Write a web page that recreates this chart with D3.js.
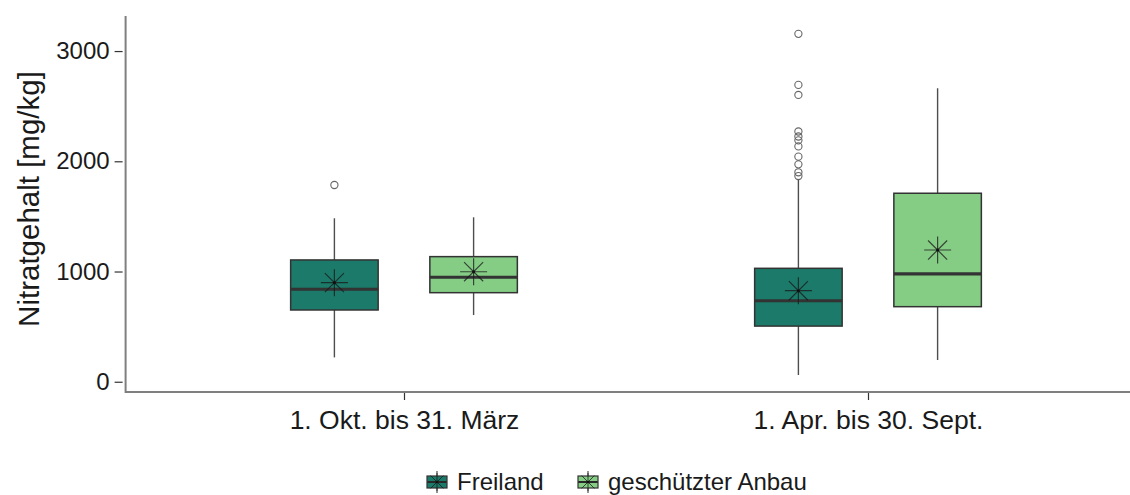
<!DOCTYPE html>
<html>
<head>
<meta charset="utf-8">
<script src="https://cdn.jsdelivr.net/npm/d3@7"></script>
<style>
  html, body { margin: 0; padding: 0; background: #fff; }
  svg { display: block; font-family: "Liberation Sans", Arial, sans-serif; }
</style>
</head>
<body>
<svg id="chart" width="1130" height="495"></svg>
<script>
// Seasons on the x axis, cultivation type as the dodged group
const seasons = ["1. Okt. bis 31. März", "1. Apr. bis 30. Sept."];
const groups = ["Freiland", "geschützter Anbau"];
const groupColors = ["#1b7a69", "#85cc85"];
const yTicks = [0, 1000, 2000, 3000];

// Box statistics per season/group: [whiskerLow, q1, median, q3, whiskerHigh, mean]
const freilandStats = [
  [221, 651, 839, 1105, 1483, 899],
  [61, 505, 735, 1029, 1840, 826]
];
const geschuetztStats = [
  [605, 808, 948, 1135, 1492, 998],
  [197, 681, 978, 1710, 2663, 1195]
];
// Outliers per season
const freilandOutliers = [
  [1785],
  [3156, 2693, 2602, 2270, 2225, 2190, 2135, 2042, 1972, 1900, 1866]
];
const geschuetztOutliers = [[], []];

const svg = d3.select("#chart");
const plot = { left: 125.6, right: 1146.4, top: 16, bottom: 392 };

const x = d3.scalePoint().domain(seasons).range([plot.left, plot.right]).padding(0.6);
const y = d3.scaleLinear().domain([-93, 3318]).range([plot.bottom, plot.top]);
const step = x.step();
const dodge = d3.scaleBand().domain(groups).range([-0.3 * step, 0.3 * step]).paddingInner(0).paddingOuter(0);
const boxW = 0.1886 * step;

const rows = [];
seasons.forEach((s, i) => {
  [freilandStats, geschuetztStats].forEach((st, g) => {
    const v = st[i];
    rows.push({
      season: s, group: groups[g], color: groupColors[g],
      lo: v[0], q1: v[1], med: v[2], q3: v[3], hi: v[4], mean: v[5],
      outliers: (g === 0 ? freilandOutliers : geschuetztOutliers)[i]
    });
  });
});

const cx = d => x(d.season) + dodge(d.group) + dodge.bandwidth() / 2;

const g = svg.append("g");

// whiskers
g.selectAll("line.whisker").data(rows).join("line")
  .attr("x1", cx).attr("x2", cx)
  .attr("y1", d => y(d.lo)).attr("y2", d => y(d.hi))
  .attr("stroke", "#4d4d4d").attr("stroke-width", 1.4);

// boxes
g.selectAll("rect.box").data(rows).join("rect")
  .attr("x", d => cx(d) - boxW / 2).attr("width", boxW)
  .attr("y", d => y(d.q3)).attr("height", d => y(d.q1) - y(d.q3))
  .attr("fill", d => d.color).attr("stroke", "#333").attr("stroke-width", 1.5);

// medians
g.selectAll("line.median").data(rows).join("line")
  .attr("x1", d => cx(d) - boxW / 2).attr("x2", d => cx(d) + boxW / 2)
  .attr("y1", d => y(d.med)).attr("y2", d => y(d.med))
  .attr("stroke", "#333").attr("stroke-width", 3.2);

// outliers
rows.forEach(d => {
  g.selectAll(null).data(d.outliers).join("circle")
    .attr("cx", cx(d)).attr("cy", v => y(v)).attr("r", 3.6)
    .attr("fill", "none").attr("stroke", "#666").attr("stroke-width", 1.1);
});

// mean asterisks (plus + cross with a centre dot)
function asterisk(sel, px, py, r, sw) {
  const d = r * Math.SQRT1_2;
  const path = `M${px - r},${py}L${px + r},${py}M${px},${py - r}L${px},${py + r}` +
               `M${px - d},${py - d}L${px + d},${py + d}M${px - d},${py + d}L${px + d},${py - d}`;
  sel.append("path").attr("d", path).attr("stroke", "#1a1a1a").attr("stroke-opacity", 0.75)
    .attr("stroke-width", sw).attr("fill", "none");
  sel.append("circle").attr("cx", px).attr("cy", py).attr("r", sw * 1.3).attr("fill", "#111");
}
rows.forEach(d => asterisk(g, cx(d), y(d.mean), 13.5, 1.2));

// axes
const axisColor = "#7f7f7f";
const yAxis = svg.append("g").attr("transform", `translate(${plot.left},0)`)
  .call(d3.axisLeft(y).tickValues(yTicks).tickSize(11).tickPadding(5).tickFormat(d3.format("d")));
yAxis.select(".domain").remove();
yAxis.selectAll(".tick line").attr("stroke", "#333").attr("stroke-width", 1.2)
  .attr("x2", -11).attr("x1", -3);
yAxis.selectAll(".tick text").attr("font-size", 24).attr("fill", "#1a1a1a");

const xAxis = svg.append("g").attr("transform", `translate(0,${plot.bottom})`)
  .call(d3.axisBottom(x).tickSize(8).tickPadding(8));
xAxis.select(".domain").remove();
xAxis.selectAll(".tick line").attr("stroke", "#333").attr("stroke-width", 1.2);
xAxis.selectAll(".tick text").attr("font-size", 26.5).attr("fill", "#1a1a1a").attr("dy", "0.8em");

svg.append("line").attr("x1", plot.left).attr("x2", plot.left)
  .attr("y1", plot.top).attr("y2", plot.bottom + 1)
  .attr("stroke", axisColor).attr("stroke-width", 2);
svg.append("line").attr("x1", plot.left).attr("x2", plot.right)
  .attr("y1", plot.bottom).attr("y2", plot.bottom)
  .attr("stroke", axisColor).attr("stroke-width", 2);

// y title
svg.append("text")
  .attr("transform", `translate(39,199) rotate(-90)`)
  .attr("text-anchor", "middle").attr("font-size", 29.5).attr("fill", "#1a1a1a")
  .text("Nitratgehalt [mg/kg]");

// legend
const legend = svg.append("g").attr("transform", "translate(425,470)");
const legendX = [0, 151];
groups.forEach((name, i) => {
  const lg = legend.append("g").attr("transform", `translate(${legendX[i]},0)`);
  lg.append("line").attr("x1", 12).attr("x2", 12).attr("y1", 1).attr("y2", 23)
    .attr("stroke", "#4d4d4d").attr("stroke-width", 1.2);
  lg.append("rect").attr("x", 2).attr("y", 6).attr("width", 20).attr("height", 12)
    .attr("fill", groupColors[i]).attr("stroke", "#333").attr("stroke-width", 1.2);
  lg.append("line").attr("x1", 2).attr("x2", 22).attr("y1", 12).attr("y2", 12)
    .attr("stroke", "#333").attr("stroke-width", 2);
  asterisk(lg, 12, 12, 9, 1);
  lg.append("text").attr("x", 32).attr("y", 20).attr("font-size", 24).attr("fill", "#1a1a1a").text(name);
});
</script>
</body>
</html>
